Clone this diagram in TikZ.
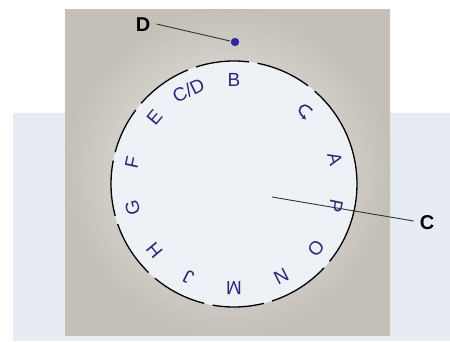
\documentclass[tikz,border=0pt]{standalone}
\usepackage{fontspec}
\setmainfont{Liberation Sans}
\usetikzlibrary{arrows.meta,calc}
\definecolor{letterblue}{HTML}{2A2A78}
\definecolor{dotblue}{HTML}{2E2A9A}
\definecolor{bandblue}{HTML}{E6ECF1}
\definecolor{squaregray}{HTML}{C4C0B8}
\definecolor{squarelight}{HTML}{F2F1EF}
\definecolor{dialfill}{HTML}{EEF2F6}
\tikzset{
  dialletter/.style={text=letterblue, font=\fontsize{19}{19}\selectfont, inner sep=0pt},
  callout/.style={font=\bfseries\fontsize{20}{20}\selectfont, text=black, inner sep=0pt},
  leader/.style={draw=black!80, line width=0.9pt},
  rim/.style={draw=black, line width=1.3pt}
}
\begin{document}
\begin{tikzpicture}[x=1pt,y=1pt]
\useasboundingbox (0,0) rectangle (450,341);
\fill[white] (0,0) rectangle (450,341);
% light band
\fill[bandblue] (13,0) rectangle (450,228);
% gray photo square
\shade[inner color=squarelight, outer color=squaregray] (65,6) rectangle (390,331);
% dial
\coordinate (c) at (234,157);
\fill[dialfill] (c) circle[radius=123];
% rim with small gaps
\foreach \a/\b in {53/79, 83/108, 112/139, 143/165, 169/195, 199/226, 230/256, 260/284, 288/317, 321/409}{
  \draw[rim] (c) ++(\a:123) arc[start angle=\a, end angle=\b, radius=123];
}
% letters
\foreach \t/\ang in {B/90, E/140, F/168, G/193, H/220, J/244, M/270, N/297, O/322, P/348, A/14}{
  \pgfmathsetmacro{\rot}{\ang-90}
  \node[dialletter, rotate=\rot] at ($(c)+(\ang:104)$) {\t};
}
\node[dialletter, rotate=26] (cd) at ($(c)+(116:104)$) {C/D};
% U-turn symbol
\begin{scope}[shift={($(c)+(46:102)$)}, rotate=-45]
  \draw[letterblue, line width=1.6pt, -{Stealth[length=4.5pt,width=5pt]}]
    (5,5.5) -- (0,5.5) arc[start angle=90, end angle=270, radius=5.5] -- (7,-5.5);
\end{scope}
% dot D
\fill[dotblue] (235,299) circle[radius=4.2];
\coordinate (dotD) at (230,300);
\node[callout] (labD) at (143,316) {D};
\draw[leader] ($(labD.east)+(6,1)$) -- (dotD);
% pointer C
\coordinate (cc) at (272,144);
\node[callout] (labC) at (427,118) {C};
\draw[leader] (cc) -- ($(labC.west)+(-6,2)$);
\end{tikzpicture}
\end{document}
